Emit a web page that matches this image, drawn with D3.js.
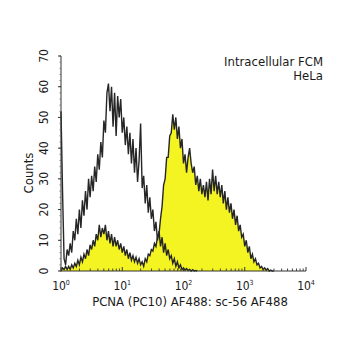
<!DOCTYPE html>
<html>
<head>
<meta charset="utf-8">
<script src="https://cdn.jsdelivr.net/npm/d3@7"></script>
<style>
  body { margin: 0; background: #fff; }
  svg text { font-family: "Liberation Sans Narrow", "DejaVu Sans Condensed", "Arial Narrow", sans-serif; fill: #1a1a1a; }
</style>
</head>
<body>
<svg id="chart" width="350" height="350"></svg>
<script>
// histogram channels: log10 of intensity, starting at 0, every 0.025 decade
var binStart = 0, binStep = 0.025;

// unfilled histogram (control)
var openCounts = [
  52, 26, 4, 2, 7, 5, 9, 6, 13, 10,
  17, 12, 20, 14, 23, 18, 26, 20, 30, 24,
  31, 26, 34, 29, 38, 33, 42, 37, 49, 45,
  58, 61, 52, 60, 47, 58, 44, 57, 50, 56,
  45, 50, 41, 47, 38, 45, 35, 43, 32, 40,
  29, 36, 48, 27, 31, 22, 28, 19, 24, 17,
  20, 13, 16, 10, 13, 8, 11, 6, 9, 5,
  7, 4, 5, 2.5, 4, 1.5, 3, 1, 2, 0.5,
  1, 0.3, 0.8, 0.2, 0.5, 0, 0.4, 0, 0.2, 0
];

// yellow filled histogram (PCNA stained)
var filledCounts = [
  0, 1, 0.5, 1.5, 0.5, 1.5, 0.5, 2, 1, 2.5,
  1.5, 3.5, 2, 4.5, 3, 5.5, 4, 7, 5, 8.5,
  7, 10, 8, 12, 10, 15, 11, 14, 12, 15,
  10, 13, 9, 12, 8, 11, 8, 10, 7, 9,
  6, 8, 5, 7, 4, 6, 3.5, 5, 3, 4.5,
  2.5, 4, 2, 3, 1.5, 4, 3, 5.5, 5, 7,
  6.5, 9, 8, 11, 12, 17, 21, 28, 30, 37,
  37, 44, 45, 51, 46, 50, 43, 47, 40, 43,
  35, 38, 32, 37, 40, 35, 32, 34, 28, 31,
  26, 30, 25, 28, 24, 29, 23, 30, 25, 33,
  26, 31, 25, 29, 24, 28, 22, 26, 20, 24,
  19, 22, 17, 20, 15, 18, 13, 15, 11, 12,
  8, 10, 6, 8, 4, 5.5, 3, 4, 2, 2.5,
  1, 1.5, 0.5, 1, 0.3, 0.8, 0, 0.3, 0, 0
];

var xTicks = [1, 10, 100, 1000, 10000];
var yTicks = [0, 10, 20, 30, 40, 50, 60, 70];
var titleLines = ["Intracellular FCM", "HeLa"];
var xTitle = "PCNA (PC10) AF488: sc-56 AF488";
var yTitle = "Counts";

var svg = d3.select("#chart");

var x = d3.scaleLog().domain([1, 10000]).range([61, 306]);
var y = d3.scaleLinear().domain([0, 70]).range([271, 56]);

function toPoints(arr) {
  return arr.map(function (v, i) {
    return [Math.pow(10, binStart + i * binStep), v];
  });
}

var area = d3.area()
  .x(function (d) { return x(d[0]); })
  .y0(y(0))
  .y1(function (d) { return y(d[1]); });

var line = d3.line()
  .x(function (d) { return x(d[0]); })
  .y(function (d) { return y(d[1]); });

var filledPts = toPoints(filledCounts);
var openPts = toPoints(openCounts);

svg.append("path")
  .attr("d", area(filledPts))
  .attr("fill", "#f4f423");

svg.append("path")
  .attr("d", line(filledPts))
  .attr("fill", "none")
  .attr("stroke", "#262626")
  .attr("stroke-width", 1.4);

svg.append("path")
  .attr("d", line(openPts))
  .attr("fill", "none")
  .attr("stroke", "#262626")
  .attr("stroke-width", 1.4);

// x axis with log minor ticks pointing up
var gx = svg.append("g").attr("transform", "translate(0," + y(0) + ")");
gx.append("line").attr("x1", x(1)).attr("x2", x(10000)).attr("stroke", "#333");
var minor = [];
for (var dec = 1; dec < 10000; dec *= 10) {
  for (var m = 2; m < 10; m++) minor.push(dec * m);
}
gx.selectAll(".mnr").data(minor).enter().append("line")
  .attr("x1", function (d) { return x(d); }).attr("x2", function (d) { return x(d); })
  .attr("y1", 0).attr("y2", -2.5).attr("stroke", "#444");
gx.selectAll(".mjr").data(xTicks).enter().append("line")
  .attr("x1", function (d) { return x(d); }).attr("x2", function (d) { return x(d); })
  .attr("y1", 0).attr("y2", -4).attr("stroke", "#333");
var xl = gx.selectAll(".xl").data(xTicks).enter().append("text")
  .attr("x", function (d) { return x(d); })
  .attr("y", 19)
  .attr("text-anchor", "middle")
  .attr("font-size", 12);
xl.append("tspan").text("10");
xl.append("tspan").attr("dy", -5).attr("font-size", 7)
  .text(function (d) { return Math.round(Math.log10(d)); });

svg.append("text")
  .attr("x", 190).attr("y", 306)
  .attr("text-anchor", "middle")
  .attr("font-size", 13)
  .text(xTitle);

// y axis
var gy = svg.append("g").attr("transform", "translate(" + x(1) + ",0)");
gy.append("line").attr("y1", y(0)).attr("y2", y(70)).attr("stroke", "#333");
gy.selectAll(".ymn").data(d3.range(0, 71, 2)).enter().append("line")
  .attr("y1", function (d) { return y(d); }).attr("y2", function (d) { return y(d); })
  .attr("x1", 0).attr("x2", -1.5).attr("stroke", "#777");
gy.selectAll(".ymj").data(yTicks).enter().append("line")
  .attr("y1", function (d) { return y(d); }).attr("y2", function (d) { return y(d); })
  .attr("x1", 0).attr("x2", -3).attr("stroke", "#333");
gy.selectAll(".yl").data(yTicks).enter().append("text")
  .attr("transform", function (d) { return "translate(-13," + y(d) + ") rotate(-90)"; })
  .attr("text-anchor", "middle")
  .attr("font-size", 12)
  .text(function (d) { return d; });

svg.append("text")
  .attr("transform", "translate(33,173) rotate(-90)")
  .attr("text-anchor", "middle")
  .attr("font-size", 13)
  .text(yTitle);

svg.selectAll(".ttl").data(titleLines).enter().append("text")
  .attr("x", 323)
  .attr("y", function (d, i) { return 66 + i * 14; })
  .attr("text-anchor", "end")
  .attr("font-size", 13)
  .text(function (d) { return d; });
</script>
</body>
</html>
